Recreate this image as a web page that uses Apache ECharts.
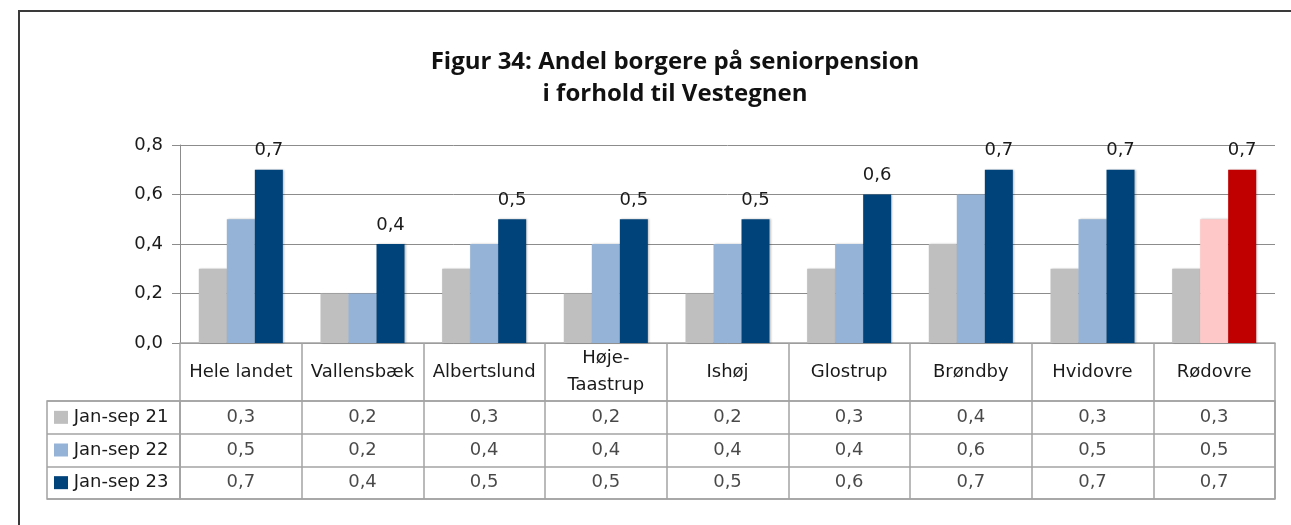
<!DOCTYPE html>
<html>
<head>
<meta charset="utf-8">
<script src="https://cdn.jsdelivr.net/npm/echarts@6/dist/echarts.min.js"></script>
<style>
  html, body { margin: 0; padding: 0; background: #fff; }
  #chart { width: 1291px; height: 525px; }
</style>
</head>
<body>
<div id="chart"></div>
<script>
// Andel borgere på seniorpension, Vestegnen
const categories = ['Hele landet', 'Vallensbæk', 'Albertslund', 'Høje-\nTaastrup', 'Ishøj', 'Glostrup', 'Brøndby', 'Hvidovre', 'Rødovre'];
const seriesNames = ['Jan-sep 21', 'Jan-sep 22', 'Jan-sep 23'];
const jan21 = [0.3, 0.2, 0.3, 0.2, 0.2, 0.3, 0.4, 0.3, 0.3];
const jan22 = [0.5, 0.2, 0.4, 0.4, 0.4, 0.4, 0.6, 0.5, 0.5];
const jan23 = [0.7, 0.4, 0.5, 0.5, 0.5, 0.6, 0.7, 0.7, 0.7];
const yTicks = [0, 0.2, 0.4, 0.6, 0.8];

const seriesValues = [jan21, jan22, jan23];
const colors = ['#bfbfbf', '#95b3d7', '#00427a'];
const highlightName = 'Rødovre';
const highlightColors = ['#bfbfbf', '#ffc8c8', '#c00000'];

const FONT = '"DejaVu Sans", Verdana, sans-serif';
const FS = 18;
const TEXT = '#1a1a1a';
const TABLE_LINE = '#a3a3a3';
const fmt = v => v.toFixed(1).replace('.', ',');

// bar data, Rødovre drawn in its own colours
function barData(si) {
  return seriesValues[si].map((v, i) => (
    categories[i] === highlightName
      ? { value: v, itemStyle: { color: highlightColors[si] } }
      : v
  ));
}

// table cells: [column, row, value]
const cellData = [];
seriesValues.forEach((arr, r) => arr.forEach((v, c) => cellData.push([c, r, v])));

const chart = echarts.init(document.getElementById('chart'));
chart.setOption({
  animation: false,
  backgroundColor: '#fff',
  title: {
    text: 'Figur 34: Andel borgere på seniorpension\ni forhold til Vestegnen',
    left: 675,
    textAlign: 'center',
    top: 46,
    padding: 0,
    textStyle: {
      fontFamily: 'Open Sans',
      fontWeight: 'bold',
      fontSize: 24,
      lineHeight: 32,
      color: '#111'
    }
  },
  graphic: [{
    type: 'rect',
    shape: { x: 19, y: 11, width: 1400, height: 700 },
    style: { fill: 'none', stroke: '#3a3a3a', lineWidth: 2 },
    silent: true
  }],
  grid: [
    { left: 180, right: 16, top: 145, bottom: 182 },
    { left: 180, right: 16, top: 401, height: 98, show: true, borderColor: TABLE_LINE, borderWidth: 1.5 },
    { left: 47, width: 133, top: 401, height: 98, show: true, borderColor: TABLE_LINE, borderWidth: 1.5 }
  ],
  xAxis: [
    {
      gridIndex: 0,
      type: 'category',
      data: categories,
      axisLine: { show: true, lineStyle: { color: TABLE_LINE, width: 1.5 } },
      axisTick: { show: true, interval: 0, length: 58, lineStyle: { color: TABLE_LINE, width: 1.5 } },
      axisLabel: {
        interval: 0, margin: 29, verticalAlign: 'middle',
        fontFamily: FONT, fontSize: FS, lineHeight: 27, color: TEXT, align: 'center'
      },
      splitLine: { show: false }
    },
    {
      gridIndex: 1,
      type: 'category',
      data: categories,
      axisLine: { show: false }, axisTick: { show: false }, axisLabel: { show: false },
      splitLine: { show: true, interval: 0, lineStyle: { color: TABLE_LINE, width: 1.5 } }
    },
    {
      gridIndex: 2,
      type: 'value',
      show: false
    }
  ],
  yAxis: [
    {
      gridIndex: 0,
      type: 'value',
      min: 0, max: 0.8, interval: 0.2,
      axisLine: { show: true, lineStyle: { color: '#8c8c8c', width: 1 } },
      axisTick: { show: true, length: 8, lineStyle: { color: '#8c8c8c' } },
      axisLabel: {
        margin: 17, fontFamily: FONT, fontSize: FS, color: TEXT,
        formatter: v => {
          const hit = yTicks.find(t => Math.abs(t - v) < 1e-9);
          return hit === undefined ? '' : fmt(hit);
        }
      },
      splitLine: { show: true, lineStyle: { color: '#8c8c8c', width: 1 } }
    },
    {
      gridIndex: 1,
      type: 'category',
      inverse: true,
      data: seriesNames,
      axisLine: { show: false }, axisTick: { show: false }, axisLabel: { show: false },
      splitLine: { show: true, interval: 0, lineStyle: { color: TABLE_LINE, width: 1.5 } }
    },
    {
      gridIndex: 2,
      type: 'category',
      inverse: true,
      data: seriesNames,
      axisLine: { show: false }, axisTick: { show: false },
      splitLine: { show: true, interval: 0, lineStyle: { color: TABLE_LINE, width: 1.5 } },
      axisLabel: {
        inside: true, margin: 7, interval: 0,
        fontFamily: FONT, fontSize: FS, color: TEXT,
        formatter: (v, i) => '{k' + i + '|} ' + v,
        rich: {
          k0: { backgroundColor: colors[0], width: 14, height: 13 },
          k1: { backgroundColor: colors[1], width: 14, height: 13 },
          k2: { backgroundColor: colors[2], width: 14, height: 13 }
        }
      }
    }
  ],
  series: [
    ...seriesNames.map((name, si) => ({
      name,
      type: 'bar',
      xAxisIndex: 0, yAxisIndex: 0,
      data: barData(si),
      barWidth: 28,
      barGap: '0%',
      itemStyle: { color: colors[si], shadowColor: 'rgba(0,0,0,0.25)', shadowBlur: 2, shadowOffsetX: 1 },
      label: si === 2 ? {
        show: true, position: 'top', distance: 10,
        fontFamily: FONT, fontSize: FS, color: TEXT,
        formatter: p => fmt(p.value)
      } : { show: false }
    })),
    {
      type: 'scatter',
      xAxisIndex: 1, yAxisIndex: 1,
      data: cellData,
      symbolSize: 1,
      itemStyle: { color: 'rgba(0,0,0,0)' },
      label: {
        show: true, position: 'inside',
        fontFamily: FONT, fontSize: FS, color: TEXT,
        formatter: p => fmt(p.value[2])
      },
      silent: true
    }
  ]
});
</script>
</body>
</html>
